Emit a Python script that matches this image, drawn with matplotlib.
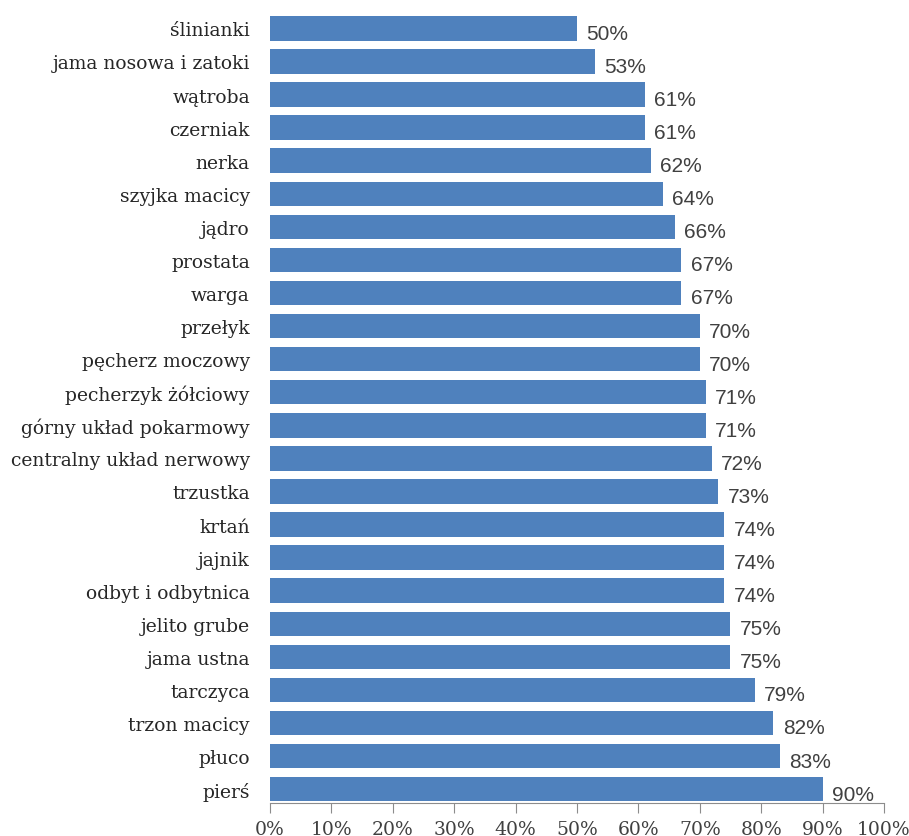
import matplotlib
matplotlib.use("Agg")
import matplotlib.pyplot as plt
from matplotlib.ticker import FuncFormatter

categories = ["ślinianki", "jama nosowa i zatoki", "wątroba", "czerniak", "nerka",
              "szyjka macicy", "jądro", "prostata", "warga", "przełyk",
              "pęcherz moczowy", "pecherzyk żółciowy", "górny układ pokarmowy",
              "centralny układ nerwowy", "trzustka", "krtań", "jajnik",
              "odbyt i odbytnica", "jelito grube", "jama ustna", "tarczyca",
              "trzon macicy", "płuco", "pierś"]
values = [50, 53, 61, 61, 62, 64, 66, 67, 67, 70, 70, 71, 71, 72, 73, 74, 74, 74,
          75, 75, 79, 82, 83, 90]
ticks = list(range(0, 101, 10))

fig = plt.figure(figsize=(9.09, 8.37), dpi=100)
ax = fig.add_axes([0.297, 0.0394, 0.6755, 0.946])
ypos = list(range(len(categories)))
ax.barh(ypos, values, height=0.74, color="#4f81bd")
ax.set_ylim(len(categories) - 0.58, -0.52)
ax.set_xlim(0, 100)
ax.set_xticks(ticks)
ax.xaxis.set_major_formatter(FuncFormatter(lambda v, p: f"{int(v)}%"))
ax.set_yticks(ypos)
ax.set_yticklabels(categories, fontsize=13.5, family="DejaVu Serif", color="#262626")
for lbl in ax.get_xticklabels():
    lbl.set_fontsize(13.5)
    lbl.set_family("DejaVu Serif")
    lbl.set_color("#404040")
for s in ["top", "right", "left"]:
    ax.spines[s].set_visible(False)
ax.spines["bottom"].set_color("#8c8c8c")
ax.tick_params(axis="y", length=0, pad=14.5)
ax.tick_params(axis="x", length=7, color="#8c8c8c", pad=5)
for y, v in zip(ypos, values):
    ax.text(v + 1.5, y + 0.15, f"{v}%", va="center", ha="left", fontsize=15,
            family="Liberation Sans", color="#404040")
fig.savefig("out.png", dpi=100)
